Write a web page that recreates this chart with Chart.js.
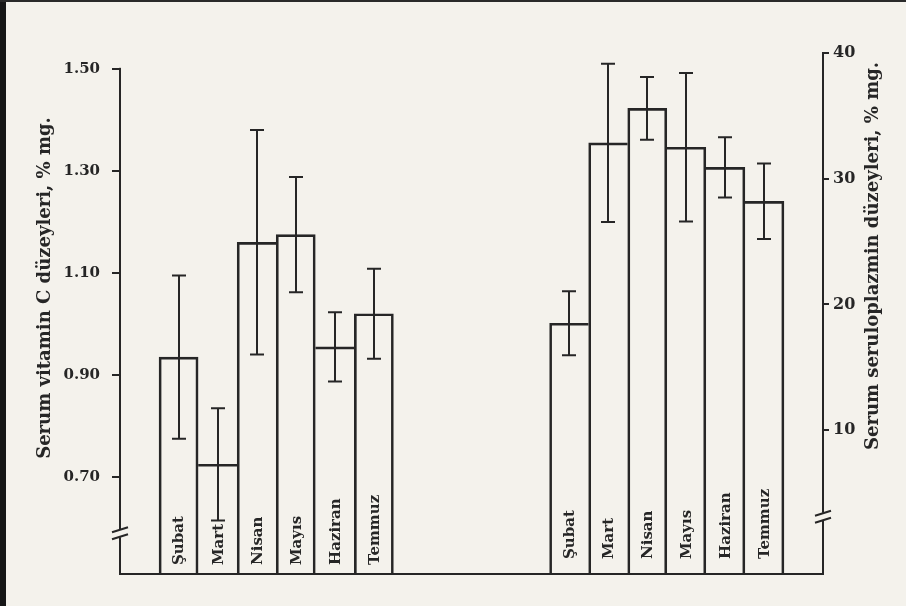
<!DOCTYPE html>
<html>
<head>
<meta charset="utf-8">
<script src="https://cdn.jsdelivr.net/npm/chart.js@4.4.1/dist/chart.umd.min.js"></script>
<style>
  html, body { margin: 0; padding: 0; background: #f4f2ec; }
  #wrap { position: relative; width: 906px; height: 606px; overflow: hidden; }
  #edgeL { position: absolute; left: 0; top: 0; width: 6px; height: 606px; background: #161616; }
  #edgeT { position: absolute; left: 0; top: 0; width: 906px; height: 2px; background: #2a2a2a; }
</style>
</head>
<body>
<div id="wrap">
  <canvas id="chart" width="906" height="606"></canvas>
  <div id="edgeL"></div>
  <div id="edgeT"></div>
</div>
<script>
// months shown in each group
const months = ["Şubat", "Mart", "Nisan", "Mayıs", "Haziran", "Temmuz"];
// serum vitamin C, % mg (left axis)
const vitaminC = [0.935, 0.725, 1.16, 1.175, 0.955, 1.02];
const vitaminCSd = [0.16, 0.11, 0.22, 0.113, 0.068, 0.088];
// serum ceruloplasmin, % mg (right axis)
const ceruloplasmin = [18.5, 32.85, 35.6, 32.5, 30.9, 28.2];
const ceruloplasminSd = [2.55, 6.3, 2.5, 5.9, 2.4, 3.0];
// tick labels
const vitaminCTicks = [0.70, 0.90, 1.10, 1.30, 1.50];
const ceruloplasminTicks = [10, 20, 30, 40];

const ink = "#262626";
const paper = "#f4f2ec";
const serif = "'DejaVu Serif', 'Liberation Serif', serif";

// 18 slots: empty, 6 left bars, 4 empty, 6 right bars, empty
const labels = [""].concat(months, ["", "", "", ""], months, [""]);
const pad = (arr, before, after) => Array(before).fill(null).concat(arr, Array(after).fill(null));

const yMin = 0.51, yMax = 1.531;
const y2Min = -1.45, y2Max = 40;

// shared edge between two bars is drawn once, by the taller bar
const edges = (c) => {
  const d = c.dataset.data, i = c.dataIndex, v = d[i];
  const prev = d[i - 1], next = d[i + 1];
  return {
    top: 2,
    bottom: 0,
    left: (prev == null || v >= prev) ? 2 : 0,
    right: (next == null || v > next) ? 2 : 0
  };
};

const errorBars = {
  id: "errorBars",
  afterDatasetsDraw(chart) {
    const ctx = chart.ctx;
    ctx.save();
    ctx.strokeStyle = ink;
    ctx.lineWidth = 2;
    chart.data.datasets.forEach((ds, i) => {
      const scale = chart.scales[ds.yAxisID];
      chart.getDatasetMeta(i).data.forEach((bar, j) => {
        const v = ds.data[j];
        if (v == null) return;
        const top = scale.getPixelForValue(v + ds.sd[j]);
        const bot = scale.getPixelForValue(v - ds.sd[j]);
        const x = Math.round(bar.x);
        ctx.beginPath();
        ctx.moveTo(x, top); ctx.lineTo(x, bot);
        ctx.moveTo(x - 7, top); ctx.lineTo(x + 7, top);
        ctx.moveTo(x - 7, bot); ctx.lineTo(x + 7, bot);
        ctx.stroke();
      });
    });
    ctx.restore();
  }
};

const barLabels = {
  id: "barLabels",
  afterDatasetsDraw(chart) {
    const ctx = chart.ctx;
    const bottom = chart.chartArea.bottom;
    ctx.save();
    ctx.fillStyle = ink;
    ctx.font = "bold 15px " + serif;
    ctx.textAlign = "left";
    ctx.textBaseline = "middle";
    chart.data.datasets.forEach((ds, i) => {
      const lift = i === 0 ? 9 : 15;
      chart.getDatasetMeta(i).data.forEach((bar, j) => {
        if (ds.data[j] == null) return;
        ctx.save();
        ctx.translate(bar.x + 1, bottom - lift);
        ctx.rotate(-Math.PI / 2);
        ctx.fillText(labels[j], 0, 0);
        ctx.restore();
      });
    });
    ctx.restore();
  }
};

const axisExtras = {
  id: "axisExtras",
  afterDraw(chart) {
    const ctx = chart.ctx;
    const { y, y2 } = chart.scales;
    ctx.save();
    // left axis starts at its top tick
    ctx.fillStyle = paper;
    ctx.fillRect(y.right - 3, chart.chartArea.top - 2, 6, y.getPixelForValue(1.5) - chart.chartArea.top + 1);
    // axis breaks
    [[y.right, y.getPixelForValue(0.59)], [y2.left, y2.getPixelForValue(3.1)]].forEach(([x, yy]) => {
      ctx.fillStyle = paper;
      ctx.fillRect(x - 3, yy - 4, 6, 8);
      ctx.strokeStyle = ink;
      ctx.lineWidth = 2;
      ctx.beginPath();
      ctx.moveTo(x - 8, yy - 1); ctx.lineTo(x + 8, yy - 6);
      ctx.moveTo(x - 8, yy + 6); ctx.lineTo(x + 8, yy + 1);
      ctx.stroke();
    });
    // axis titles
    ctx.fillStyle = ink;
    ctx.font = "bold 18px " + serif;
    ctx.textAlign = "center";
    ctx.textBaseline = "middle";
    [["Serum vitamin C düzeyleri, % mg.", 45, 288], ["Serum seruloplazmin düzeyleri, % mg.", 873, 256]].forEach(([t, x, yy]) => {
      ctx.save();
      ctx.translate(x, yy);
      ctx.rotate(-Math.PI / 2);
      ctx.fillText(t, 0, 0);
      ctx.restore();
    });
    ctx.restore();
  }
};

const barStyle = {
  backgroundColor: "rgba(0,0,0,0)",
  borderColor: ink,
  borderWidth: edges,
  borderSkipped: false,
  grouped: false,
  categoryPercentage: 1,
  barPercentage: 1
};

new Chart(document.getElementById("chart"), {
  type: "bar",
  data: {
    labels: labels,
    datasets: [
      Object.assign({
        data: pad(vitaminC, 1, 11),
        sd: pad(vitaminCSd, 1, 11),
        yAxisID: "y",
        base: yMin
      }, barStyle),
      Object.assign({
        data: pad(ceruloplasmin, 11, 1),
        sd: pad(ceruloplasminSd, 11, 1),
        yAxisID: "y2",
        base: y2Min
      }, barStyle)
    ]
  },
  options: {
    responsive: false,
    animation: false,
    layout: { padding: { top: 53, left: 0, right: 0, bottom: 0 } },
    plugins: { legend: { display: false }, tooltip: { enabled: false } },
    scales: {
      x: {
        ticks: { display: false },
        grid: { display: false },
        border: { display: true, color: ink, width: 2 },
        afterFit: (s) => { s.height = 32; }
      },
      y: {
        position: "left",
        min: yMin,
        max: yMax,
        afterBuildTicks: (s) => { s.ticks = vitaminCTicks.map((v) => ({ value: v })); },
        ticks: {
          color: ink,
          padding: 12,
          font: { family: serif, size: 15, weight: "bold" },
          callback: (v) => Number(v).toFixed(2)
        },
        grid: { display: true, drawOnChartArea: false, drawTicks: true, tickLength: 8, color: ink, lineWidth: 2 },
        border: { display: true, color: ink, width: 2 },
        afterFit: (s) => { s.width = 120; }
      },
      y2: {
        position: "right",
        min: y2Min,
        max: y2Max,
        afterBuildTicks: (s) => { s.ticks = ceruloplasminTicks.map((v) => ({ value: v })); },
        ticks: {
          color: ink,
          padding: 4,
          font: { family: serif, size: 16, weight: "bold" }
        },
        grid: { display: true, drawOnChartArea: false, drawTicks: true, tickLength: 6, color: ink, lineWidth: 2 },
        border: { display: true, color: ink, width: 2 },
        afterFit: (s) => { s.width = 83; }
      }
    }
  },
  plugins: [errorBars, barLabels, axisExtras]
});
</script>
</body>
</html>
